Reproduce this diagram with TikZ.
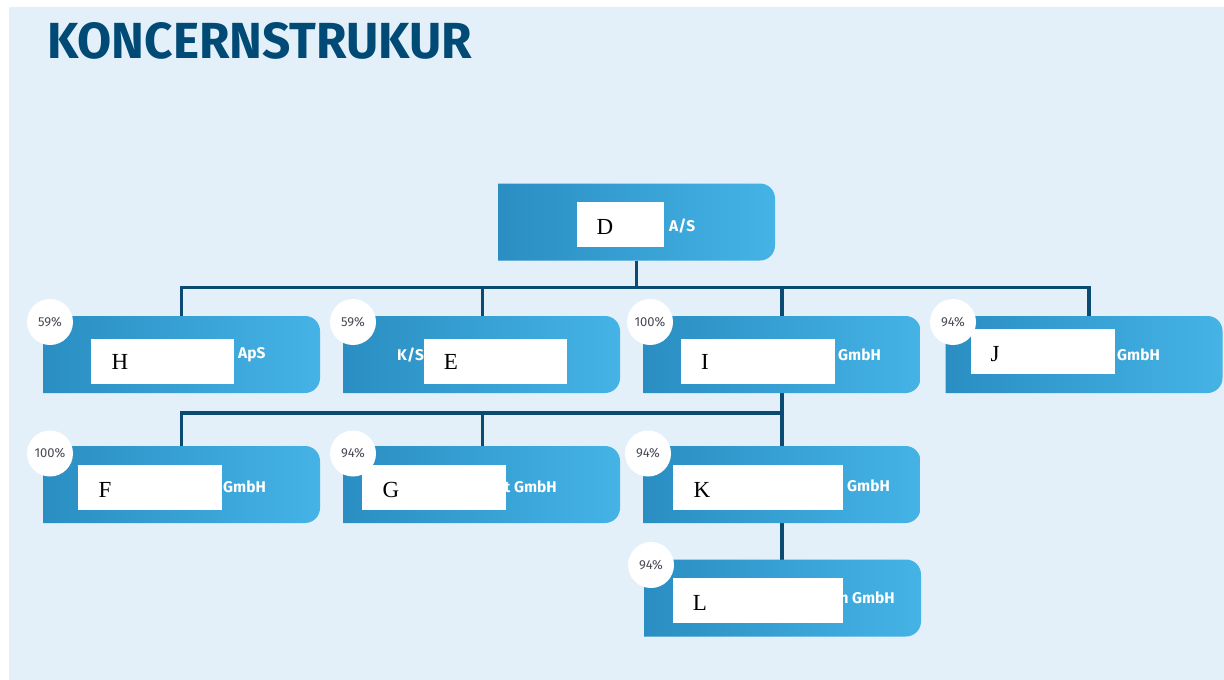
\documentclass[tikz,border=0pt]{standalone}
\usepackage{fontspec}
\setmainfont{Liberation Serif}
\newfontfamily\boxfont{Fira Sans}
\usepackage{graphicx}
\definecolor{bgblue}{HTML}{E3F0F9}
\definecolor{boxleft}{HTML}{2A8EC2}
\definecolor{boxright}{HTML}{45B3E6}
\definecolor{linecol}{HTML}{0A4A73}
\definecolor{titlecol}{HTML}{004A75}
\definecolor{pctgray}{HTML}{4A4A55}
\begin{document}
\begin{tikzpicture}[x=1pt,y=-1pt,
  box/.style={minimum width=277pt, minimum height=77pt, inner sep=0pt, outer sep=0pt},
  conn/.style={draw=linecol, line width=3.5pt},
  pct/.style={circle, fill=white, minimum size=46pt, inner sep=0pt, text=pctgray, font=\boxfont\fontsize{13}{13}\selectfont},
  mask/.style={fill=white, inner sep=0pt, outer sep=0pt},
  letter/.style={inner sep=0pt, font=\fontsize{23}{23}\selectfont, text=black},
  suffix/.style={inner sep=0pt, anchor=west, text=white, font=\boxfont\bfseries\fontsize{15.5}{15.5}\selectfont}
]
\useasboundingbox (0,0) rectangle (1224,680);
\fill[bgblue] (9,7) rectangle (1224,680);
\node[anchor=north west, inner sep=0pt, text=titlecol] (title) at (47,22)
  {\resizebox{425pt}{36pt}{\boxfont\bfseries KONCERNSTRUKUR}};

% box nodes
\node[box] (D) at (636.5,222) {};
\node[box] (H) at (181.5,354.5) {};
\node[box] (E) at (481.5,354.5) {};
\node[box] (I) at (782,354.5) {};
\node[box] (J) at (1084,354.5) {};
\node[box] (F) at (181.5,484.5) {};
\node[box] (G) at (481.5,484.5) {};
\node[box] (K) at (782,484.5) {};
\node[box] (L) at (782.5,598) {};

% connectors
\draw[conn] (D.south) -- ++(0,27) -| (H.north);
\draw[conn] (D.south) -- ++(0,27) -| ([xshift=1pt]E.north);
\draw[conn] (D.south) -- ++(0,27) -| (I.north);
\draw[conn] (D.south) -- ++(0,27) -| ([xshift=5pt]J.north);
\draw[conn] (I.south) -- ++(0,20) -| (F.north);
\draw[conn] (I.south) -- ++(0,20) -| ([xshift=1pt]G.north);
\draw[conn] (I.south) -- ++(0,20) -| (K.north);
\draw[conn] (K.south) -- (K.south |- L.north);

% box fills
\foreach \b in {D,H,E,I,J,F,G,K,L}{
  \shade[left color=boxleft, right color=boxright]
    {[rounded corners=15pt] (\b.north west) rectangle (\b.south east)}
    (\b.north west) rectangle ([xshift=40pt]\b.south west);
}

% visible suffix texts
\node[suffix] (sD) at (669,226) {A/S};
\node[suffix] (sH) at (238,355) {ApS};
\node[suffix] (sE) at (397,355) {K/S};
\node[suffix] (sI) at (838,355) {GmbH};
\node[suffix] (sJ) at (1117,355) {GmbH};
\node[suffix] (sF) at (223,487) {GmbH};
\node[suffix, anchor=east] (sG) at (557,487) {t GmbH};
\node[suffix] (sK) at (847,486) {GmbH};
\node[suffix, anchor=east] (sL) at (895,598) {n GmbH};

% white masks with letters
\fill[mask] (577,202) rectangle (664,247);
\fill[mask] (91,339) rectangle (234,384);
\fill[mask] (424,339) rectangle (567,384);
\fill[mask] (681,339) rectangle (835,384);
\fill[mask] (971,329) rectangle (1115,374);
\fill[mask] (78,465) rectangle (222,510);
\fill[mask] (362,465) rectangle (506,510);
\fill[mask] (673,465) rectangle (843,510);
\fill[mask] (673,578) rectangle (843,623);

\node[letter] (lD) at (605,227) {D};
\node[letter] (lH) at (120,362) {H};
\node[letter] (lE) at (451,362) {E};
\node[letter] (lI) at (705,362) {I};
\node[letter] (lJ) at (995,354) {J};
\node[letter] (lF) at (105,490) {F};
\node[letter] (lG) at (391,490) {G};
\node[letter] (lK) at (702,490) {K};
\node[letter] (lL) at (700,603) {L};

% percentage circles
\node[pct] (pH) at (50,322) {59\%};
\node[pct] (pE) at (353,322) {59\%};
\node[pct] (pI) at (650,322) {100\%};
\node[pct] (pJ) at (953,322) {94\%};
\node[pct] (pF) at (50,453.5) {100\%};
\node[pct] (pG) at (353,453.5) {94\%};
\node[pct] (pK) at (648,453.5) {94\%};
\node[pct] (pL) at (651,565) {94\%};
\end{tikzpicture}
\end{document}
